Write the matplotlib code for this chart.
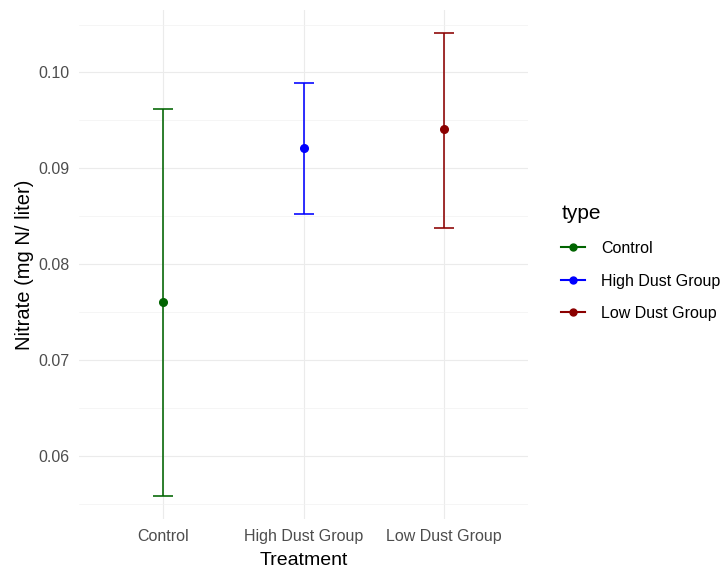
import matplotlib.pyplot as plt
from matplotlib.lines import Line2D

plt.rcParams['font.family'] = ['Liberation Sans', 'DejaVu Sans']

# data
groups = ['Control', 'High Dust Group', 'Low Dust Group']
means = [0.0760, 0.0921, 0.0941]
lower = [0.0558, 0.0852, 0.0838]
upper = [0.0962, 0.0989, 0.1041]
colors = ['#006400', '#0000FF', '#8B0000']

fig = plt.figure(figsize=(7.23, 5.68), dpi=100)
ax = fig.add_axes([79 / 723, 49 / 568, 449 / 723, 509 / 568])

x = list(range(len(groups)))
for i in x:
    ax.errorbar(i, means[i],
                yerr=[[means[i] - lower[i]], [upper[i] - means[i]]],
                fmt='o', color=colors[i], ms=5.5, elinewidth=1.15,
                capsize=7, capthick=1.15, zorder=3)

# ggplot style discrete / continuous expansion
ax.set_xlim(-0.6, 2.6)
lo, hi = min(lower), max(upper)
pad = (hi - lo) * 0.05
ax.set_ylim(lo - pad, hi + pad)

ax.set_xticks(x)
ax.set_xticklabels(groups)
ax.set_yticks([0.06, 0.07, 0.08, 0.09, 0.10])
ax.set_yticklabels(['0.06', '0.07', '0.08', '0.09', '0.10'])
ax.set_yticks([0.055, 0.065, 0.075, 0.085, 0.095, 0.105], minor=True)

ax.grid(True, which='major', color='#EBEBEB', linewidth=0.8)
ax.grid(True, which='minor', axis='y', color='#F2F2F2', linewidth=0.5)
ax.set_axisbelow(True)
for s in ax.spines.values():
    s.set_visible(False)
ax.tick_params(which='both', length=0, labelsize=11.5, colors='#4D4D4D', pad=7)

ax.set_xlabel('Treatment', fontsize=14, labelpad=6)
ax.set_ylabel('Nitrate (mg N/ liter)', fontsize=14.5, labelpad=3)

handles = [Line2D([0], [0], color=c, marker='o', ms=5, lw=1.5) for c in colors]
leg = fig.legend(handles, groups, title='type', loc='upper left',
                 bbox_to_anchor=(547 / 723, 1 - 190 / 568), frameon=False,
                 fontsize=11.5, title_fontsize=15, handlelength=1.5,
                 handletextpad=1.0, labelspacing=1.1, alignment='left')

fig.savefig('out.png', dpi=100)
